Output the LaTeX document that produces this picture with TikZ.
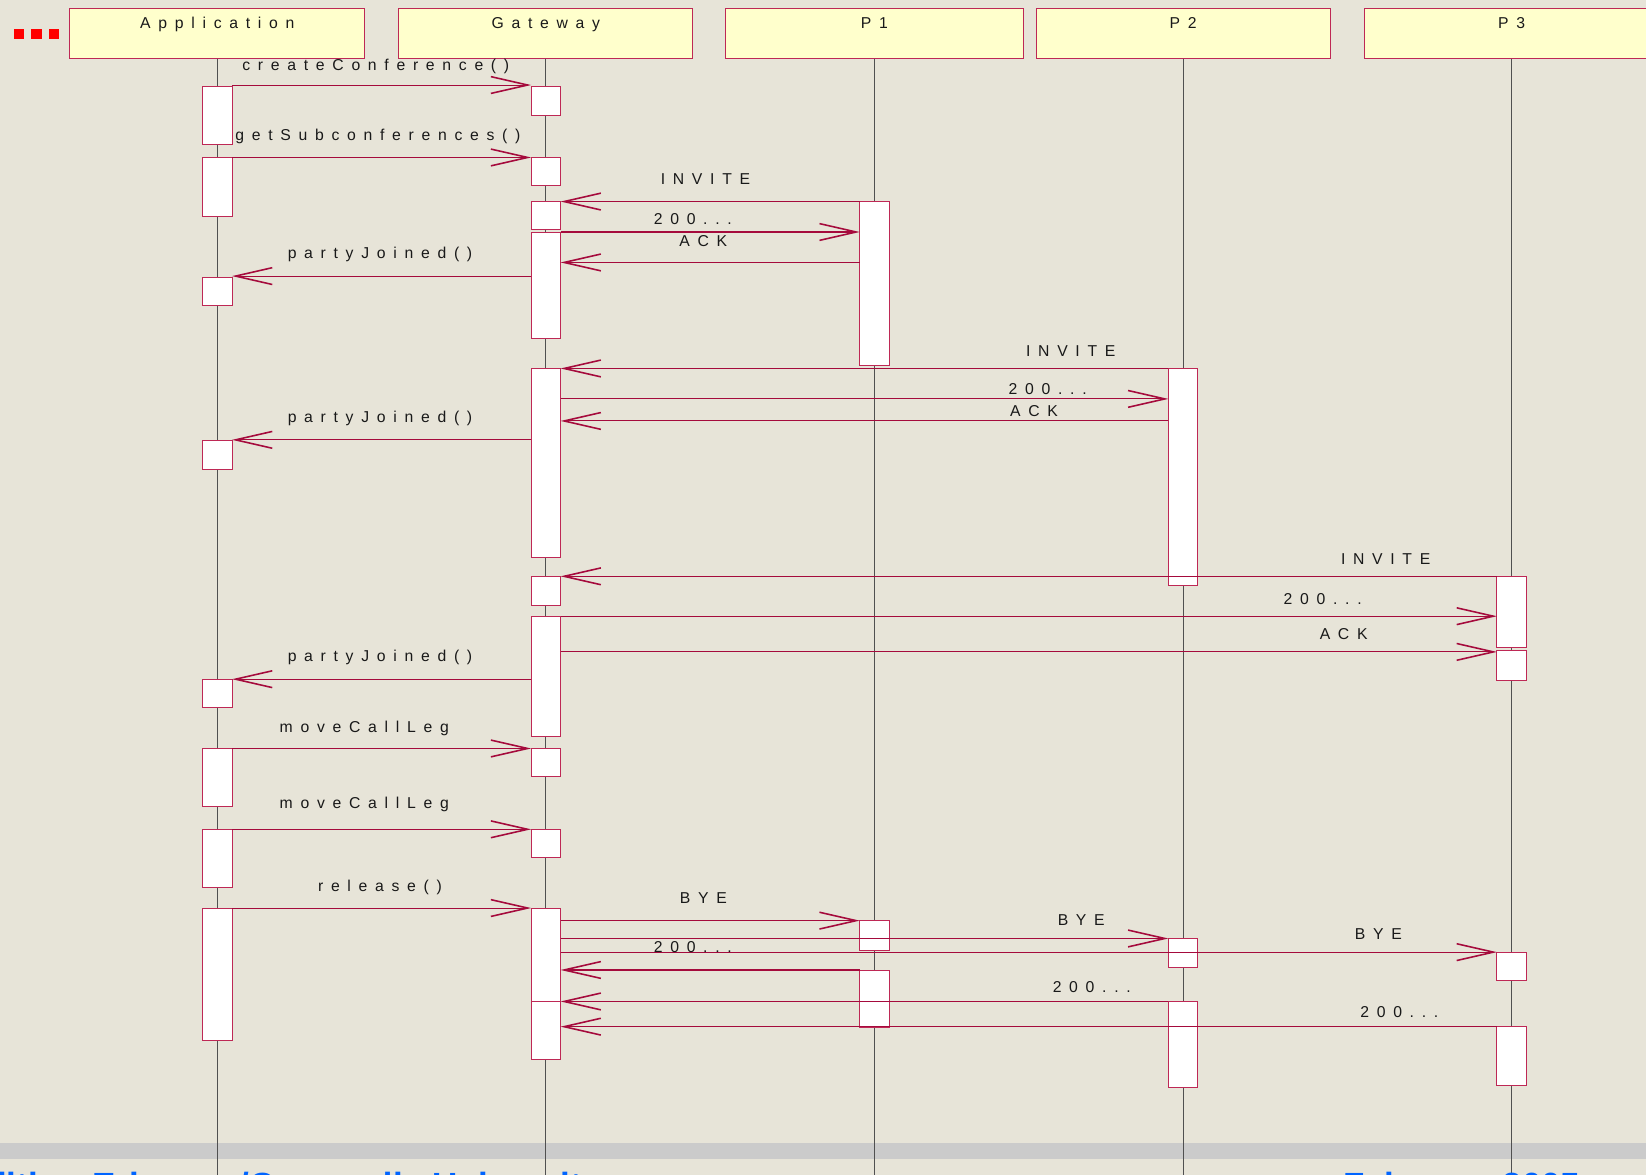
\documentclass[tikz,border=0pt]{standalone}
\usepackage{fontspec}
\setmainfont{Liberation Sans}
\newfontfamily\lblfont[LetterSpace=49]{Liberation Sans}
\usetikzlibrary{arrows.meta}
\definecolor{bgc}{RGB}{231,228,216}
\definecolor{hdrc}{RGB}{255,255,204}
\definecolor{boxc}{RGB}{190,40,85}
\definecolor{arrc}{RGB}{165,10,60}
\definecolor{lifec}{RGB}{80,80,80}
\definecolor{bandc}{RGB}{203,203,203}
\definecolor{footc}{RGB}{0,100,255}
\definecolor{txtc}{RGB}{25,25,25}
\newcommand{\actbox}[4]{\node[act, minimum height={#4-#3}] (#1) at (#2,{(#3+#4)/2}) {};}
\begin{document}
\begin{tikzpicture}[x=1pt,y=-1pt,
  hdr/.style={draw=boxc, fill=hdrc, line width=0.9pt, inner xsep=0pt, inner ysep=0pt,
    text height=18.5pt, text depth=28.5pt, anchor=north,
    font={\lblfont\fontsize{15}{18}\selectfont}, text=txtc},
  act/.style={draw=boxc, fill=white, line width=0.9pt, minimum width=28pt, inner sep=0pt, outer sep=0pt},
  msg/.style={draw=arrc, line width=1pt, -{Straight Barb[length=35pt,width=16pt,line width=1.5pt]}},
  lbl/.style={font={\lblfont\fontsize{15}{18}\selectfont}, text=txtc, inner sep=0pt, anchor=base},
  life/.style={draw=lifec, line width=0.8pt},
  foot/.style={font={\bfseries\fontsize{33.3}{40}\selectfont}, text=footc, inner sep=0pt, anchor=base west}]
\useasboundingbox (0,0) rectangle (1568,1119);
\clip (0,0) rectangle (1568,1119);
\fill[bgc] (0,0) rectangle (1568,1119);
\fill[bandc] (0,1089) rectangle (1568,1104);
% red marks
\fill[red] (13,28) rectangle (23,37);
\fill[red] (30,28) rectangle (40,37);
\fill[red] (46.5,28) rectangle (56.5,37);
% headers
\node[hdr, minimum width=281pt] (happ) at (207,8) {Application};
\node[hdr, minimum width=280pt] (hgw) at (520,8) {Gateway};
\node[hdr, minimum width=283pt] (hp1) at (833,8) {P1};
\node[hdr, minimum width=280pt] (hp2) at (1127,8) {P2};
\node[hdr, minimum width=280pt] (hp3) at (1440,8) {P3};
% lifelines
\foreach \h in {happ,hgw,hp1,hp2,hp3}{\draw[life] (\h.south) -- (\h.south |- 0,1119);}
% activation boxes
\actbox{a1}{207}{82}{138}
\actbox{a2}{207}{150}{206}
\actbox{a3}{207}{264}{291}
\actbox{a4}{207}{420}{447}
\actbox{a5}{207}{647}{674}
\actbox{a6}{207}{713}{768}
\actbox{a7}{207}{790}{845}
\actbox{a8}{207}{865}{991}
\actbox{g1}{520}{82}{110}
\actbox{g2}{520}{150}{177}
\actbox{g3}{520}{192}{219}
\actbox{g4}{520}{221}{322}
\actbox{g5}{520}{351}{531}
\actbox{g6}{520}{549}{577}
\actbox{g7}{520}{587}{702}
\actbox{g8}{520}{713}{740}
\actbox{g9}{520}{790}{817}
\actbox{g10}{520}{865}{964}
\actbox{g11}{520}{954}{1009}
\actbox{p1a}{833}{192}{348}
\actbox{p1b}{833}{877}{905}
\actbox{p1c}{833}{924}{979}
\actbox{p2a}{1127}{351}{558}
\actbox{p2b}{1127}{894}{922}
\actbox{p2c}{1127}{954}{1036}
\actbox{p3a}{1440}{549}{617}
\actbox{p3b}{1440}{620}{648}
\actbox{p3c}{1440}{907}{934}
\actbox{p3d}{1440}{978}{1034}
% messages
\draw[msg] (a1.east |- 0,81) -- (g1.west |- 0,81);
\draw[msg] (a2.east |- 0,150) -- (g2.west |- 0,150);
\draw[msg] (p1a.west |- 0,192) -- (g3.east |- 0,192);
\draw[msg] (g4.east |- 0,221) -- (p1a.west |- 0,221);
\draw[msg] (p1a.west |- 0,250) -- (g4.east |- 0,250);
\draw[msg] (g4.west |- 0,263) -- (a3.east |- 0,263);
\draw[msg] (p2a.west |- 0,351) -- (g5.east |- 0,351);
\draw[msg] (g5.east |- 0,380) -- (p2a.west |- 0,380);
\draw[msg] (p2a.west |- 0,401) -- (g5.east |- 0,401);
\draw[msg] (g5.west |- 0,419) -- (a4.east |- 0,419);
\draw[msg] (p3a.west |- 0,549) -- (g6.east |- 0,549);
\draw[msg] (g7.east |- 0,587) -- (p3a.west |- 0,587);
\draw[msg] (g7.east |- 0,621) -- (p3b.west |- 0,621);
\draw[msg] (g7.west |- 0,647) -- (a5.east |- 0,647);
\draw[msg] (a6.east |- 0,713) -- (g8.west |- 0,713);
\draw[msg] (a7.east |- 0,790) -- (g9.west |- 0,790);
\draw[msg] (a8.east |- 0,865) -- (g10.west |- 0,865);
\draw[msg] (g10.east |- 0,877) -- (p1b.west |- 0,877);
\draw[msg] (g10.east |- 0,894) -- (p2b.west |- 0,894);
\draw[msg] (g10.east |- 0,907) -- (p3c.west |- 0,907);
\draw[msg] (p1c.west |- 0,924) -- (g10.east |- 0,924);
\draw[msg] (p2c.west |- 0,954) -- (g11.east |- 0,954);
\draw[msg] (p3d.west |- 0,978) -- (g11.east |- 0,978);
% labels
\node[lbl] (l1) at (358,67.5) {createConference()};
\node[lbl] (l2) at (360,133.5) {getSubconferences()};
\node[lbl] (l3) at (672,175.5) {INVITE};
\node[lbl] (l4) at (660,213.5) {200...};
\node[lbl] (l5) at (670,234.5) {ACK};
\node[lbl] (l6) at (362,246.5) {partyJoined()};
\node[lbl] (l7) at (1020,339.5) {INVITE};
\node[lbl] (l8) at (998,375.5) {200...};
\node[lbl] (l9) at (985,396.5) {ACK};
\node[lbl] (l10) at (362,402.5) {partyJoined()};
\node[lbl] (l11) at (1320,537.5) {INVITE};
\node[lbl] (l12) at (1260,575.5) {200...};
\node[lbl] (l13) at (1280,609.5) {ACK};
\node[lbl] (l14) at (362,630.5) {partyJoined()};
\node[lbl] (l15) at (347,697.5) {moveCallLeg};
\node[lbl] (l16) at (347,770.5) {moveCallLeg};
\node[lbl] (l17) at (362,849.5) {release()};
\node[lbl] (l18) at (670,860.5) {BYE};
\node[lbl] (l19) at (1030,881.5) {BYE};
\node[lbl] (l20) at (1313,894.5) {BYE};
\node[lbl] (l21) at (660,907.5) {200...};
\node[lbl] (l22) at (1040,945.5) {200...};
\node[lbl] (l23) at (1333,969.5) {200...};
% footer (cut off by the lower edge, as in the reference)
\node[foot] (ftl) at (87.6,1141) {\llap{Roch H. Glitho- }Ericsson/Concordia University};
\node[foot] (ftr) at (1279.5,1141) {February 2005};
\end{tikzpicture}
\end{document}
